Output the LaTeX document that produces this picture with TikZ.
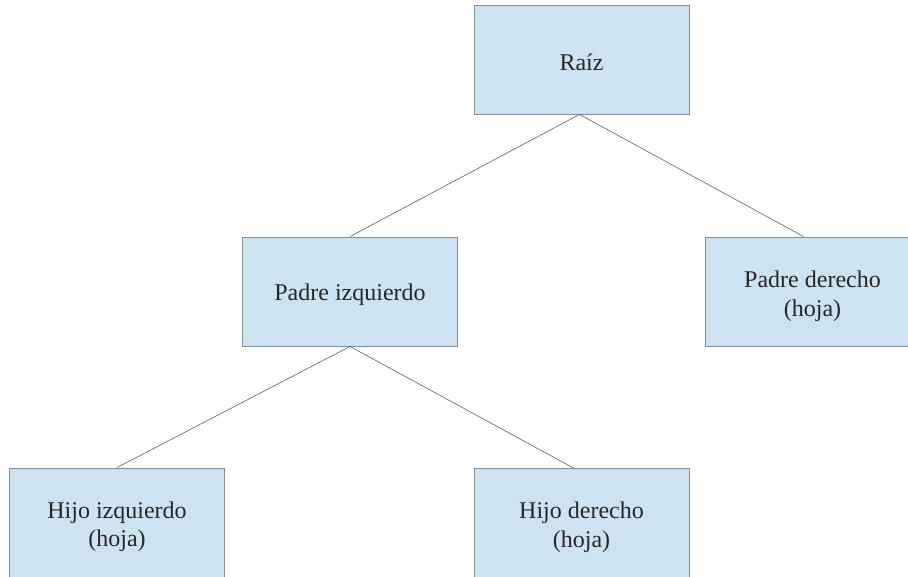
\documentclass[tikz,border=0pt]{standalone}
\usepackage{fontspec}
\setmainfont{Liberation Serif}
\definecolor{boxfill}{RGB}{206,227,241}
\definecolor{boxline}{RGB}{130,142,155}
\definecolor{edgecol}{RGB}{95,95,95}
\begin{document}
\begin{tikzpicture}[x=1pt,y=1pt,
  treebox/.style={rectangle, draw=boxline, line width=0.9pt, fill=boxfill,
    minimum width=215pt, minimum height=109pt, inner sep=0pt},
  boxtext/.style={align=center, inner sep=0pt,
    font=\fontsize{24}{28.5}\selectfont, text=black!85},
  treeedge/.style={draw=edgecol, line width=0.6pt}]
\useasboundingbox[fill=white] (0,0) rectangle (908,577);
\node[treebox] (raiz) at (581.5,517.5) {};
\node[treebox] (pi) at (350,285.5) {};
\node[treebox] (pd) at (812.5,285.5) {};
\node[treebox] (hi) at (117,54.5) {};
\node[treebox] (hd) at (581.5,54) {};
\node[boxtext, yshift=-3pt] (raizt) at (raiz) {Raíz};
\node[boxtext, yshift=-3pt] (pit) at (pi) {Padre izquierdo};
\node[boxtext, yshift=-4.5pt] (pdt) at (pd) {Padre derecho\\(hoja)};
\node[boxtext, yshift=-4pt] (hit) at (hi) {Hijo izquierdo\\(hoja)};
\node[boxtext, yshift=-4pt] (hdt) at (hd) {Hijo derecho\\(hoja)};
\draw[treeedge] ([xshift=-2pt]raiz.south) -- (pi.north);
\draw[treeedge] ([xshift=-2pt]raiz.south) -- ([xshift=-9pt]pd.north);
\draw[treeedge] (pi.south) -- (hi.north);
\draw[treeedge] (pi.south) -- ([xshift=-8pt]hd.north);
\end{tikzpicture}
\end{document}
